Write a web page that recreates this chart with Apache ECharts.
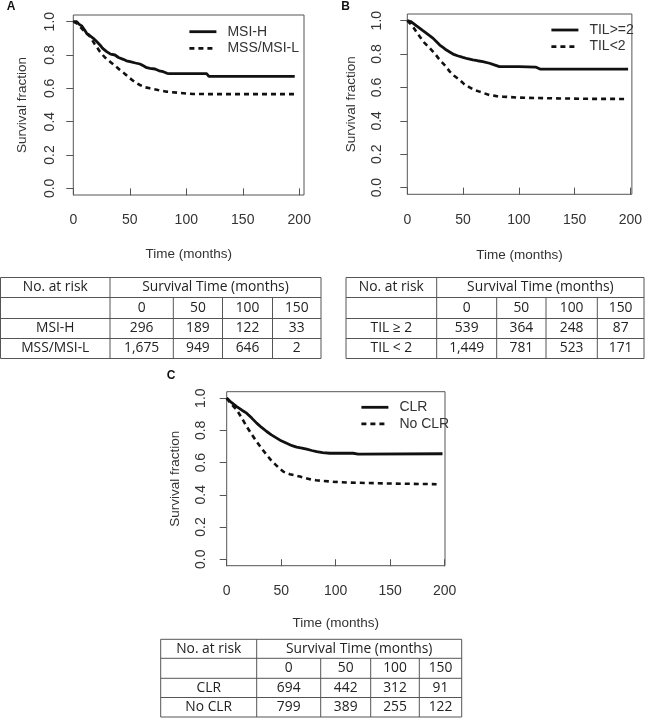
<!DOCTYPE html>
<html>
<head>
<meta charset="utf-8">
<script src="https://cdn.jsdelivr.net/npm/echarts@6/dist/echarts.min.js"></script>
<style>
html,body{margin:0;padding:0;background:#fff;}
#chart{width:645px;height:719px;}
</style>
</head>
<body>
<div id="chart"></div>
<script>
// ---------- Data ----------
const xTicks = [0, 50, 100, 150, 200];
const yTicks = [0, 0.2, 0.4, 0.6, 0.8, 1.0];

// Panel A
const msiH = [[0,1],[3,1],[5,0.985],[7.4,0.975],[10,0.95],[11.8,0.93],[14,0.92],[17.7,0.90],[20,0.885],[23.6,0.86],[26,0.84],[29.5,0.82],[33,0.805],[36.9,0.80],[40,0.785],[44.2,0.774],[47,0.765],[50.2,0.76],[55,0.752],[59,0.746],[62,0.735],[65,0.724],[68,0.72],[72.3,0.716],[76,0.705],[79.6,0.70],[83,0.69],[85.6,0.688],[100,0.688],[118,0.688],[120,0.672],[196,0.672]];
const mssL = [[0,1],[3,0.99],[6,0.97],[10,0.94],[14.8,0.91],[19,0.865],[23.6,0.82],[28,0.785],[32.5,0.76],[37,0.735],[41.3,0.71],[46,0.685],[50.2,0.66],[55,0.635],[59,0.62],[63,0.607],[67.9,0.60],[75,0.59],[82.6,0.58],[95,0.572],[106,0.566],[130,0.565],[196,0.565]];

// Panel B
const tilHigh = [[0,1],[3,0.995],[5.3,0.984],[8,0.97],[11.3,0.954],[14,0.94],[17.3,0.924],[20,0.91],[23.2,0.894],[26,0.875],[29.1,0.854],[32,0.84],[35.1,0.824],[38,0.812],[41,0.80],[45,0.79],[49.9,0.78],[54,0.772],[58.8,0.765],[63,0.76],[67.7,0.755],[73.7,0.745],[78,0.735],[82.6,0.725],[100,0.725],[115,0.722],[119,0.71],[198,0.71]];
const tilLow = [[0,1],[3,0.98],[6,0.955],[8.5,0.93],[11.3,0.904],[15,0.87],[20.2,0.835],[25,0.8],[29.1,0.765],[34,0.73],[38.1,0.695],[42,0.67],[47,0.645],[51,0.62],[55.9,0.60],[60,0.585],[64.8,0.575],[69,0.565],[73.7,0.555],[80,0.548],[85.6,0.545],[100,0.539],[130,0.535],[160,0.532],[198,0.531]];

// Panel C
const clr = [[0,1],[4,0.975],[9.2,0.948],[14,0.925],[18.3,0.907],[23,0.876],[27.5,0.845],[32,0.818],[36.7,0.793],[41,0.772],[45.9,0.752],[50,0.735],[55,0.72],[60,0.705],[64.2,0.696],[69,0.69],[73.4,0.683],[78,0.675],[82.6,0.668],[88,0.662],[94.8,0.658],[116,0.658],[120.6,0.653],[198,0.655]];
const noClr = [[0,1],[4,0.965],[9.2,0.927],[14,0.875],[18.3,0.824],[23,0.775],[27.5,0.73],[32,0.688],[36.7,0.648],[41,0.612],[45.9,0.58],[49,0.56],[51.9,0.544],[55,0.535],[58,0.528],[63,0.52],[67.2,0.513],[72,0.505],[76.4,0.497],[82,0.49],[88.6,0.486],[100,0.48],[113,0.476],[150,0.47],[192.6,0.466]];

// Risk tables
const riskHeader = ['No. at risk', 'Survival Time (months)'];
const riskTimes = ['0', '50', '100', '150'];
const groupsA = ['MSI-H', 'MSS/MSI-L'];
const countsA = [['296','189','122','33'], ['1,675','949','646','2']];
const groupsB = ['TIL \u2265 2', 'TIL < 2'];
const countsB = [['539','364','248','87'], ['1,449','781','523','171']];
const groupsC = ['CLR', 'No CLR'];
const countsC = [['694','442','312','91'], ['799','389','255','122']];

// ---------- Chart ----------
const FONT = '"Liberation Sans", Arial, sans-serif';
const TFONT = '"Open Sans", Lato, sans-serif';
const TXT = '#333';
const BOX = '#555';

const grids = [
  {left: 73.3, top: 15, width: 230.7, height: 180, xmax: 204.2, yLabMargin: 16, yNameGap: 44, xNameGap: 52},
  {left: 407.3, top: 14, width: 226, height: 180.3, xmax: 201.4, yLabMargin: 23.5, yNameGap: 49, xNameGap: 53.5},
  {left: 226.7, top: 391.7, width: 218.3, height: 174, xmax: 200.3, yLabMargin: 19, yNameGap: 44.5, xNameGap: 51}
];

function xAxisFor(i) {
  return {
    gridIndex: i, type: 'value', min: 0, max: grids[i].xmax,
    axisLine: {show: false},
    axisTick: {show: true, length: 7, customValues: xTicks, lineStyle: {color: BOX, width: 1}},
    axisLabel: {customValues: xTicks, fontSize: 14, color: TXT, fontFamily: FONT, margin: 18.5},
    splitLine: {show: false},
    name: 'Time (months)', nameLocation: 'middle', nameGap: grids[i].xNameGap,
    nameTextStyle: {fontSize: 13.5, color: TXT, fontFamily: FONT}
  };
}
function yAxisFor(i) {
  return {
    gridIndex: i, type: 'value', min: -0.04, max: 1.04,
    axisLine: {show: false},
    axisTick: {show: true, length: 7, customValues: yTicks, lineStyle: {color: BOX, width: 1}},
    axisLabel: {customValues: yTicks, rotate: 90, fontSize: 14, color: TXT, fontFamily: FONT, margin: grids[i].yLabMargin,
      formatter: v => Number(v).toFixed(1)},
    splitLine: {show: false},
    name: 'Survival fraction', nameLocation: 'middle', nameGap: grids[i].yNameGap,
    nameTextStyle: {fontSize: 13.5, color: TXT, fontFamily: FONT}
  };
}
function lineSeries(name, data, i, dashed) {
  return {
    name, type: 'line', xAxisIndex: i, yAxisIndex: i, data,
    showSymbol: false, symbol: 'none', smooth: false, animation: false,
    lineStyle: {color: '#111', width: dashed ? 2.6 : 2.8, type: dashed ? [5, 4] : 'solid'},
    itemStyle: {color: '#111'}
  };
}
function legendFor(names, left, top) {
  return {
    data: names, orient: 'vertical', left, top, padding: 0,
    itemWidth: 27, itemHeight: 14, itemGap: 2.6,
    selectedMode: false,
    textStyle: {fontSize: 14, lineHeight: 14, color: TXT, fontFamily: FONT, padding: [0, 0, 0, 6]},
    lineStyle: {width: 2.8},
    itemStyle: {color: 'rgba(0,0,0,0)', borderWidth: 0, opacity: 0}
  };
}

// table builder (graphic elements)
function buildTable(colX, rowY, groups, counts) {
  const els = [];
  const L = colX[0], R = colX[colX.length - 1], T = rowY[0], B = rowY[rowY.length - 1];
  const ls = {stroke: BOX, lineWidth: 1};
  rowY.forEach(y => els.push({type: 'line', shape: {x1: L, y1: y, x2: R, y2: y}, style: ls, silent: true}));
  els.push({type: 'line', shape: {x1: L, y1: T, x2: L, y2: B}, style: ls});
  els.push({type: 'line', shape: {x1: R, y1: T, x2: R, y2: B}, style: ls});
  els.push({type: 'line', shape: {x1: colX[1], y1: T, x2: colX[1], y2: B}, style: ls});
  for (let c = 2; c < colX.length - 1; c++) {
    els.push({type: 'line', shape: {x1: colX[c], y1: rowY[1], x2: colX[c], y2: B}, style: ls});
  }
  const txt = (s, cx, cy) => ({type: 'text', x: cx, y: cy,
    style: {text: s, fontSize: 13.8, fontFamily: TFONT, fill: '#222', align: 'center', verticalAlign: 'middle'}});
  const mid = (a, b) => (a + b) / 2;
  els.push(txt(riskHeader[0], mid(colX[0], colX[1]), mid(rowY[0], rowY[1])));
  els.push(txt(riskHeader[1], mid(colX[1], R), mid(rowY[0], rowY[1])));
  riskTimes.forEach((t, k) => els.push(txt(t, mid(colX[k + 1], colX[k + 2]), mid(rowY[1], rowY[2]))));
  groups.forEach((g, r) => {
    const cy = mid(rowY[r + 2], rowY[r + 3]);
    els.push(txt(g, mid(colX[0], colX[1]), cy));
    counts[r].forEach((v, k) => els.push(txt(v, mid(colX[k + 1], colX[k + 2]), cy)));
  });
  return els;
}

const panelLetter = (s, x, y) => ({type: 'text', x, y,
  style: {text: s, fontSize: 12, fontWeight: 'bold', fontFamily: FONT, fill: '#111', align: 'center', verticalAlign: 'middle'}});

const graphics = [].concat(
  buildTable([0.5, 110, 173.3, 222.5, 272.5, 321], [277.5, 297.5, 318.5, 338.5, 358.5], groupsA, countsA),
  buildTable([346, 436.7, 496.7, 546, 597.3, 644], [277.5, 297.5, 318.5, 338.5, 358.5], groupsB, countsB),
  buildTable([160.7, 256.7, 320.7, 370.7, 419.3, 461.7], [639.3, 658.3, 678.3, 697.5, 717], groupsC, countsC),
  [panelLetter('A', 11, 7), panelLetter('B', 345.5, 7), panelLetter('C', 171, 376)]
);

const chart = echarts.init(document.getElementById('chart'), null, {renderer: 'canvas'});
chart.setOption({
  backgroundColor: '#fff',
  animation: false,
  grid: grids.map(g => ({left: g.left, top: g.top, width: g.width, height: g.height,
    show: true, borderColor: BOX, borderWidth: 1, backgroundColor: 'transparent', containLabel: false})),
  xAxis: [0, 1, 2].map(xAxisFor),
  yAxis: [0, 1, 2].map(yAxisFor),
  legend: [
    legendFor(['MSI-H', 'MSS/MSI-L'], 188, 24.7),
    legendFor(['TIL>=2', 'TIL<2'], 550, 23),
    legendFor(['CLR', 'No CLR'], 360, 400.3)
  ],
  series: [
    lineSeries('MSI-H', msiH, 0, false),
    lineSeries('MSS/MSI-L', mssL, 0, true),
    lineSeries('TIL>=2', tilHigh, 1, false),
    lineSeries('TIL<2', tilLow, 1, true),
    lineSeries('CLR', clr, 2, false),
    lineSeries('No CLR', noClr, 2, true)
  ],
  graphic: graphics
});
</script>
</body>
</html>
